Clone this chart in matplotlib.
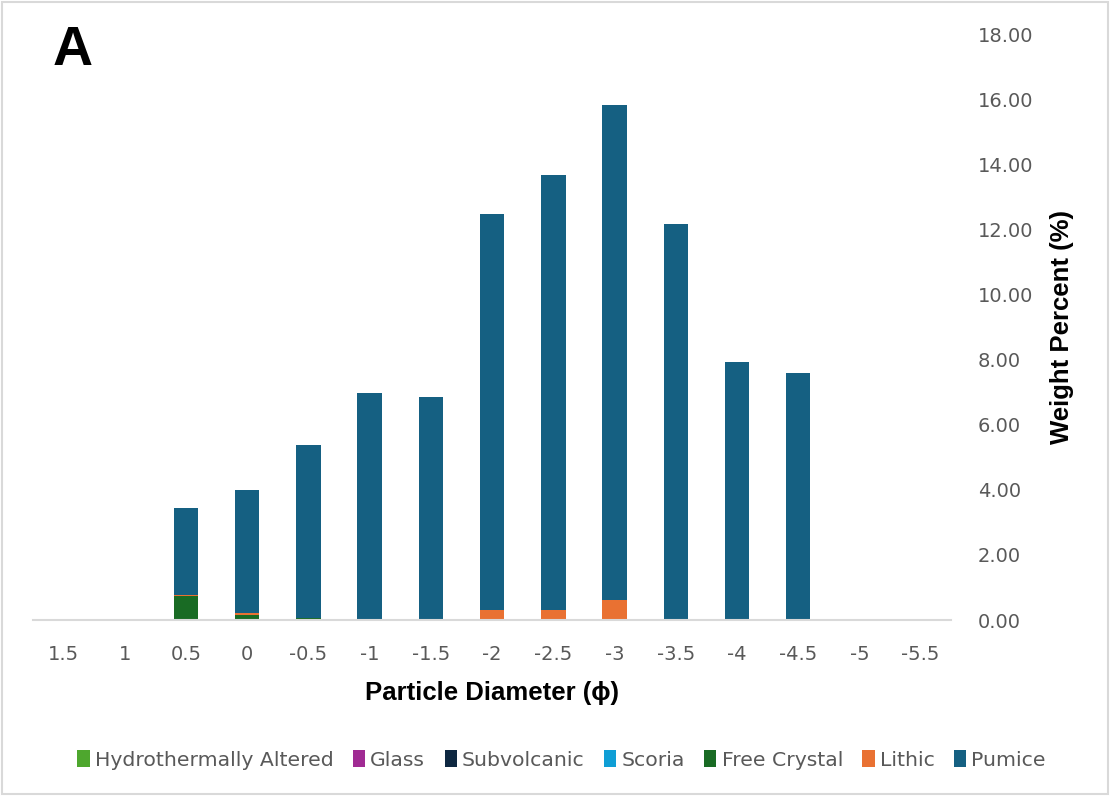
import numpy as np
import matplotlib.pyplot as plt
from matplotlib.patches import Rectangle

categories = ['1.5', '1', '0.5', '0', '-0.5', '-1', '-1.5', '-2', '-2.5', '-3',
              '-3.5', '-4', '-4.5', '-5', '-5.5']

series_names = ['Hydrothermally Altered', 'Glass', 'Subvolcanic', 'Scoria',
                'Free Crystal', 'Lithic', 'Pumice']
hydro = [0, 0, 0.02, 0.02, 0.01, 0, 0, 0, 0, 0, 0, 0, 0, 0, 0]
glass = [0, 0, 0, 0, 0, 0, 0, 0, 0, 0, 0, 0, 0, 0, 0]
subvolcanic = [0, 0, 0, 0, 0, 0, 0, 0, 0, 0, 0, 0, 0, 0, 0]
scoria = [0, 0, 0, 0, 0, 0, 0, 0, 0, 0, 0, 0, 0, 0, 0]
free_crystal = [0, 0, 0.72, 0.14, 0.05, 0, 0, 0, 0, 0, 0, 0, 0, 0, 0]
lithic = [0, 0, 0.03, 0.07, 0, 0, 0, 0.31, 0.31, 0.62, 0, 0, 0, 0, 0]
pumice = [0, 0, 2.68, 3.77, 5.32, 6.98, 6.86, 12.18, 13.38, 15.23, 12.18, 7.94, 7.60, 0, 0]

colors = ['#4EA72E', '#A02B93', '#0E2841', '#0F9ED5', '#196B24', '#E97132', '#156082']

fig = plt.figure(figsize=(11.1, 7.96), dpi=100)
ax = fig.add_axes([0.0297, 0.2211, 0.8273, 0.735])

x = np.arange(len(categories))
bottom = np.zeros(len(categories))
for name, vals, c in zip(series_names,
                         [hydro, glass, subvolcanic, scoria, free_crystal, lithic, pumice],
                         colors):
    vals = np.array(vals)
    ax.bar(x, vals, 0.4, bottom=bottom, color=c, label=name, zorder=2)
    bottom += vals

ax.set_xlim(-0.5, len(categories) - 0.5)
ax.set_ylim(0, 18)
ax.set_yticks(np.arange(0, 18.1, 2))
ax.set_yticklabels([f'{v:.2f}' for v in np.arange(0, 18.1, 2)])
ax.set_xticks(x)
ax.set_xticklabels(categories)
ax.yaxis.tick_right()
ax.yaxis.set_label_position('right')
ax.tick_params(axis='both', length=0, labelsize=14, labelcolor='#595959')
ax.tick_params(axis='x', pad=18)
ax.tick_params(axis='y', pad=19)
for s in ['top', 'left', 'right']:
    ax.spines[s].set_visible(False)
ax.spines['bottom'].set_color('#D9D9D9')
ax.spines['bottom'].set_linewidth(1.5)

ax.set_xlabel('Particle Diameter (\u03d5)', fontsize=18.5, fontweight='bold',
              family=['Liberation Sans', 'DejaVu Sans'], labelpad=12)
ax.set_ylabel('Weight Percent (%)', fontsize=18.5, fontweight='bold',
              family=['Liberation Sans', 'DejaVu Sans'], labelpad=12)

fig.text(0.047, 0.918, 'A', fontsize=40, fontweight='bold',
         family=['Liberation Sans', 'DejaVu Sans'])

ax.legend(loc='center', bbox_to_anchor=(0.506, 0.045), bbox_transform=fig.transFigure,
          ncol=7, frameon=False, fontsize=14.7, handlelength=0.6, handleheight=0.9,
          handletextpad=0.25, columnspacing=0.95, labelcolor='#595959')

fig.patches.append(Rectangle((0.002, 0.002), 0.996, 0.996, transform=fig.transFigure,
                             fill=False, edgecolor='#D9D9D9', linewidth=1.5))

fig.savefig('out.png', dpi=100)
